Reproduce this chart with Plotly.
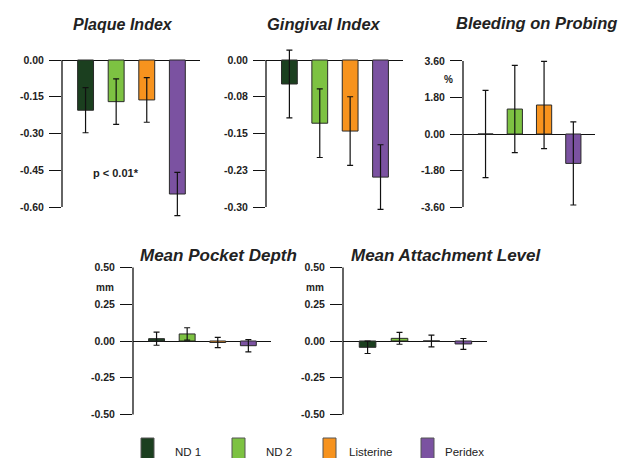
import plotly.graph_objects as go

W, H = 634, 458

groups = ["ND 1", "ND 2", "Listerine", "Peridex"]
colors = ["#1b3f1f", "#7dc242", "#f7931e", "#7b52a1"]
xpos = [0, 1, 2, 3]

plaque = [-0.205, -0.170, -0.163, -0.547]
plaque_err = [0.092, 0.093, 0.091, 0.088]
gingival = [-0.049, -0.129, -0.145, -0.239]
gingival_err = [0.069, 0.070, 0.070, 0.066]
bleeding = [0.0, 1.23, 1.43, -1.45]
bleeding_err = [2.15, 2.15, 2.15, 2.05]
pocket = [0.016, 0.048, -0.010, -0.032]
pocket_err = [0.045, 0.042, 0.035, 0.042]
attach = [-0.043, 0.018, 0.0, -0.020]
attach_err = [0.042, 0.040, 0.040, 0.037]

plaque_ticks = [0.0, -0.15, -0.30, -0.45, -0.60]
plaque_labels = ["0.00", "-0.15", "-0.30", "-0.45", "-0.60"]
gingival_ticks = [0.0, -0.075, -0.15, -0.225, -0.30]
gingival_labels = ["0.00", "-0.08", "-0.15", "-0.23", "-0.30"]
bleeding_ticks = [3.6, 1.8, 0.0, -1.8, -3.6]
bleeding_labels = ["3.60", "1.80", "0.00", "-1.80", "-3.60"]
mm_ticks = [0.5, 0.25, 0.0, -0.25, -0.5]
mm_labels = ["0.50", "0.25", "0.00", "-0.25", "-0.50"]

titles = ["Plaque Index", "Gingival Index", "Bleeding on Probing",
          "Mean Pocket Depth", "Mean Attachment Level"]
title_sizes = [16, 16.5, 16.5, 17, 17]

FONT = "Liberation Sans, Arial, sans-serif"
XRANGE = [-0.77, 3.74]
TICKFONT = dict(family=FONT, size=10.5, color="#222", weight="bold")

panels = [
    dict(vals=plaque, err=plaque_err, ticks=plaque_ticks, labels=plaque_labels,
         ax=62, end=200, zero=60, ppu=245.0, rng=[-0.66, 0.05], title_xy=(123, 24)),
    dict(vals=gingival, err=gingival_err, ticks=gingival_ticks, labels=gingival_labels,
         ax=266, end=403, zero=60, ppu=490.0, rng=[-0.32, 0.035], title_xy=(324, 24)),
    dict(vals=bleeding, err=bleeding_err, ticks=bleeding_ticks, labels=bleeding_labels,
         ax=463, end=595, zero=134, ppu=20.28, rng=[-4.0, 4.0], title_xy=(536, 23)),
    dict(vals=pocket, err=pocket_err, ticks=mm_ticks, labels=mm_labels,
         ax=133, end=271, zero=341, ppu=147.0, rng=[-0.55, 0.55], title_xy=(218, 255)),
    dict(vals=attach, err=attach_err, ticks=mm_ticks, labels=mm_labels,
         ax=343, end=487, zero=341, ppu=147.0, rng=[-0.55, 0.55], title_xy=(446, 255)),
]

fig = go.Figure()
layout = {}
shapes = []
annotations = []

for p_i, p in enumerate(panels):
    n = "" if p_i == 0 else str(p_i + 1)
    xa, ya = "x" + n, "y" + n
    lo, hi = p["rng"]
    top_px = p["zero"] - hi * p["ppu"]
    bot_px = p["zero"] - lo * p["ppu"]
    layout["xaxis" + n] = dict(
        domain=[p["ax"] / W, p["end"] / W], range=XRANGE, anchor=ya,
        showline=False, showgrid=False, zeroline=False, showticklabels=False,
        ticks="", fixedrange=True)
    layout["yaxis" + n] = dict(
        domain=[1 - bot_px / H, 1 - top_px / H], range=[lo, hi], anchor=xa,
        showline=False, showgrid=False, zeroline=True, zerolinecolor="#111",
        zerolinewidth=1.3, tickvals=p["ticks"], ticktext=p["labels"],
        ticks="outside", ticklen=12, tickwidth=1.3, tickcolor="#111",
        ticklabelstandoff=3, tickfont=TICKFONT, fixedrange=True)
    shapes.append(dict(type="line", xref=xa + " domain", yref=ya,
                       x0=0, x1=0, y0=min(p["ticks"]), y1=max(p["ticks"]),
                       line=dict(color="#111", width=1.3), layer="above"))
    for g_i, g in enumerate(groups):
        fig.add_trace(go.Bar(
            x=[xpos[g_i]], y=[p["vals"][g_i]], width=0.52,
            marker=dict(color=colors[g_i], line=dict(color="#2a2a2a", width=1)),
            error_y=dict(type="data", array=[p["err"][g_i]], visible=True,
                         color="#111", thickness=1.2, width=3),
            name=g, legendgroup=g, showlegend=False,
            xaxis=xa, yaxis=ya, hoverinfo="skip"))
    tx, ty = p["title_xy"]
    annotations.append(dict(
        text="<b><i>" + titles[p_i] + "</i></b>", xref="paper", yref="paper",
        x=tx / W, y=1 - ty / H, xanchor="center", yanchor="middle",
        showarrow=False, font=dict(family=FONT, size=title_sizes[p_i], color="#222")))

UNITFONT = dict(family=FONT, size=10, color="#222", weight="bold")
annotations.append(dict(text="%", xref="paper", yref="paper", x=448 / W, y=1 - 80 / H,
                        xanchor="center", yanchor="middle", showarrow=False, font=UNITFONT))
for ux in (105, 315):
    annotations.append(dict(text="mm", xref="paper", yref="paper", x=ux / W, y=1 - 287 / H,
                            xanchor="center", yanchor="middle", showarrow=False, font=UNITFONT))
annotations.append(dict(text="<b>p < 0.01*</b>", xref="x", yref="y", x=1.0, y=-0.46,
                        xanchor="center", yanchor="middle", showarrow=False,
                        font=dict(family=FONT, size=11, color="#222")))

# legend drawn as swatches + labels along the bottom edge
legend_swatch_x = [141, 232, 323, 421]
legend_text_x = [173, 264, 347, 443]
for g_i, g in enumerate(groups):
    sx = legend_swatch_x[g_i]
    shapes.append(dict(type="rect", xref="paper", yref="paper",
                       x0=sx / W, x1=(sx + 13) / W, y0=1 - 464 / H, y1=1 - 438 / H,
                       fillcolor=colors[g_i], line=dict(color="#555", width=1)))
    annotations.append(dict(text=g, xref="paper", yref="paper",
                            x=legend_text_x[g_i] / W, y=1 - 452 / H,
                            xanchor="left", yanchor="middle", showarrow=False,
                            font=dict(family=FONT, size=11.5, color="#222")))

fig.update_layout(
    **layout,
    width=W, height=H, margin=dict(l=0, r=0, t=0, b=0),
    paper_bgcolor="white", plot_bgcolor="white",
    shapes=shapes, annotations=annotations,
    barmode="overlay",
    showlegend=False,
)

fig.write_html("out.html")
